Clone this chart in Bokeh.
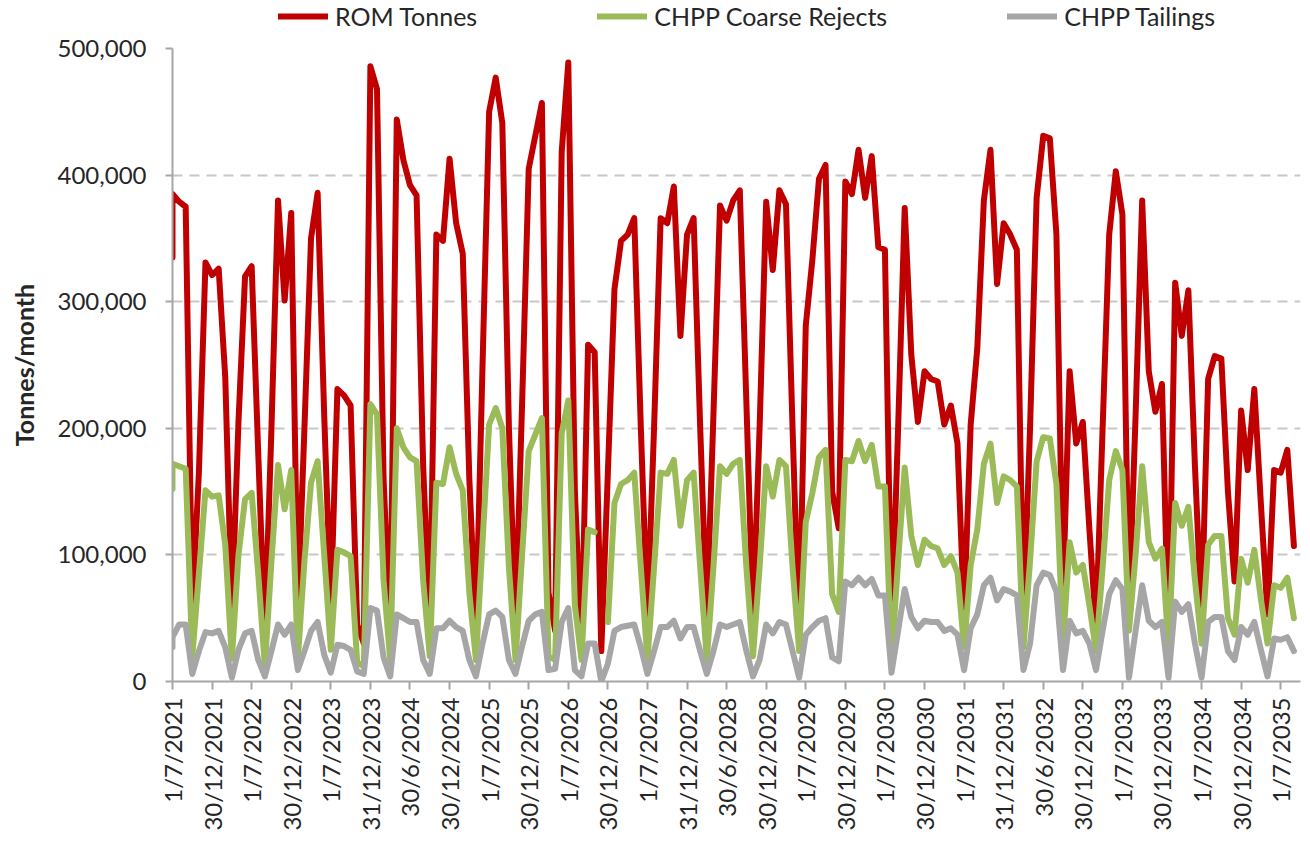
import math
from bokeh.plotting import figure
from bokeh.layouts import column
from bokeh.models import (ColumnDataSource, Legend, LegendItem, FixedTicker,
                          NumeralTickFormatter, Range1d)
from bokeh.embed import file_html
from bokeh.resources import INLINE

NaN = float("nan")

# x-axis tick labels (one every 6 months)
tick_labels = ["1/7/2021", "30/12/2021", "1/7/2022", "30/12/2022", "1/7/2023",
               "31/12/2023", "30/6/2024", "30/12/2024", "1/7/2025", "30/12/2025",
               "1/7/2026", "30/12/2026", "1/7/2027", "31/12/2027", "30/6/2028",
               "30/12/2028", "1/7/2029", "30/12/2029", "1/7/2030", "30/12/2030",
               "1/7/2031", "31/12/2031", "30/6/2032", "30/12/2032", "1/7/2033",
               "30/12/2033", "1/7/2034", "30/12/2034", "1/7/2035"]

# month number of every data row (first row sits on the first month as well)
month_index = [0] + list(range(171))

rom_tonnes = [
    335000,
    385000, 379000, 375000, 58000, 165000, 331000, 321000, 326000, 240000, 55000,
    205000, 320000, 328000, 180000, 37000, 200000, 380000, 301000, 370000, 56000,
    200000, 350000, 386000, 210000, 60000, 231000, 226000, 218000, 45000, 30000,
    486000, 468000, 160000, 35000, 444000, 412000, 392000, 384000, 170000, 43000,
    353000, 348000, 413000, 362000, 338000, 160000, 40000, 250000, 450000, 477000,
    441000, 200000, 45000, 220000, 405000, 431000, 457000, 70000, 40000, 418000,
    489000, 150000, 25000, 266000, 260000, 24000, 165000, 310000, 348000, 353000,
    366000, 200000, 50000, 200000, 366000, 362000, 391000, 273000, 353000, 366000,
    200000, 50000, 210000, 376000, 364000, 380000, 388000, 220000, 50000, 200000,
    379000, 325000, 388000, 377000, 200000, 34000, 281000, 333000, 397000, 408000,
    150000, 121000, 395000, 385000, 420000, 382000, 415000, 343000, 341000, 40000,
    200000, 374000, 258000, 205000, 245000, 239000, 237000, 203000, 218000, 188000,
    53000, 203000, 263000, 380000, 420000, 314000, 362000, 353000, 341000, 50000,
    200000, 382000, 431000, 429000, 353000, 70000, 245000, 188000, 205000, 120000,
    43000, 200000, 353000, 403000, 369000, 56000, 210000, 380000, 245000, 213000,
    235000, 30000, 315000, 273000, 309000, 170000, 50000, 239000, 257000, 255000,
    150000, 79000, 214000, 167000, 231000, 140000, 53000, 167000, 165000, 183000,
    107000,
]

coarse_rejects = [
    152000,
    172000, 170000, 168000, 20000, 85000, 151000, 146000, 147000, 108000, 18000,
    100000, 144000, 149000, 85000, 12000, 95000, 171000, 136000, 167000, 18000,
    95000, 157000, 174000, 100000, 25000, 104000, 102000, 99000, 15000, 12000,
    219000, 211000, 80000, 17000, 200000, 185000, 177000, 174000, 80000, 20000,
    157000, 156000, 185000, 164000, 151000, 70000, 17000, 110000, 203000, 216000,
    200000, 90000, 17000, 100000, 182000, 195000, 208000, 20000, 17000, 196000,
    222000, 60000, 17000, 120000, 118000, NaN, 47000, 141000, 156000, 159000,
    165000, 90000, 17000, 90000, 165000, 164000, 175000, 123000, 159000, 165000,
    90000, 17000, 90000, 170000, 164000, 172000, 175000, 90000, 20000, 90000,
    170000, 146000, 175000, 170000, 90000, 24000, 126000, 149000, 177000, 183000,
    69000, 55000, 175000, 174000, 190000, 174000, 187000, 154000, 154000, 17000,
    95000, 169000, 115000, 92000, 112000, 107000, 105000, 92000, 99000, 86000,
    27000, 92000, 120000, 172000, 188000, 141000, 162000, 159000, 154000, 27000,
    95000, 174000, 193000, 192000, 156000, 30000, 110000, 86000, 92000, 60000,
    24000, 90000, 159000, 182000, 167000, 40000, 100000, 170000, 110000, 97000,
    105000, 27000, 141000, 123000, 138000, 80000, 30000, 108000, 115000, 115000,
    50000, 37000, 97000, 78000, 104000, 65000, 30000, 76000, 74000, 82000,
    50000,
]

tailings = [
    27000,
    35000, 45000, 45000, 6000, 24000, 39000, 38000, 40000, 27000, 3000,
    25000, 38000, 40000, 17000, 4000, 24000, 45000, 37000, 45000, 9000,
    24000, 40000, 47000, 21000, 7000, 29000, 28000, 25000, 8000, 6000,
    58000, 56000, 19000, 4000, 53000, 50000, 47000, 47000, 17000, 6000,
    42000, 42000, 48000, 43000, 40000, 17000, 4000, 30000, 53000, 56000,
    51000, 17000, 6000, 28000, 48000, 53000, 55000, 9000, 10000, 47000,
    58000, 9000, 4000, 30000, 30000, 0, 14000, 40000, 43000, 44000,
    45000, 27000, 6000, 24000, 43000, 43000, 48000, 34000, 43000, 43000,
    24000, 6000, 24000, 45000, 43000, 45000, 47000, 24000, 4000, 17000,
    45000, 38000, 47000, 45000, 24000, 3000, 37000, 43000, 48000, 50000,
    19000, 16000, 79000, 76000, 82000, 76000, 81000, 68000, 68000, 7000,
    40000, 73000, 51000, 42000, 48000, 47000, 47000, 40000, 42000, 37000,
    9000, 42000, 53000, 76000, 82000, 64000, 73000, 71000, 68000, 9000,
    30000, 76000, 86000, 84000, 71000, 9000, 48000, 38000, 40000, 30000,
    9000, 40000, 69000, 80000, 73000, 3000, 40000, 76000, 48000, 43000,
    47000, 3000, 63000, 55000, 61000, 30000, 3000, 47000, 51000, 51000,
    24000, 17000, 43000, 37000, 47000, 25000, 4000, 34000, 33000, 35000,
    24000,
]

series_names = ["ROM Tonnes", "CHPP Coarse Rejects", "CHPP Tailings"]
series_colors = ["#C00000", "#9BBB59", "#A6A6A6"]

FONT = "Lato"
TEXT = "#262626"
AXIS = "#A6A6A6"
LINE_W = 6

source = ColumnDataSource(dict(x=month_index, rom=rom_tonnes,
                               coarse=coarse_rejects, tail=tailings))

# ---------------- legend strip (its own small figure above the chart) -------
leg_fig = figure(width=1302, height=33, output_backend="svg",
                 toolbar_location=None, x_range=Range1d(0, 1),
                 y_range=Range1d(0, 1), x_axis_type=None, y_axis_type=None,
                 min_border_left=0, min_border_right=0, min_border_top=0,
                 min_border_bottom=0)
leg_fig.outline_line_color = None
leg_fig.xgrid.grid_line_color = None
leg_fig.ygrid.grid_line_color = None
# key-only renderers: one undefined point each, so nothing is drawn in the strip
key_source = ColumnDataSource(dict(x=[0], y=[NaN]))
leg_renderers = []
for color in series_colors:
    leg_renderers.append(leg_fig.line("x", "y", source=key_source,
                                      line_color=color, line_width=LINE_W,
                                      line_cap="round"))
legend = Legend(items=[LegendItem(label=n, renderers=[r])
                       for n, r in zip(series_names, leg_renderers)],
                location=(106, 2), orientation="horizontal",
                glyph_width=50, glyph_height=20, label_height=20,
                label_standoff=7, padding=0, margin=0, spacing=120,
                border_line_color=None, background_fill_alpha=0,
                label_text_font=FONT, label_text_font_size="25px",
                label_text_color=TEXT)
leg_fig.add_layout(legend, "center")

# ---------------- main chart -------------------------------------------------
p = figure(width=1302, height=800, output_backend="svg", toolbar_location=None,
           x_range=Range1d(0, 171), y_range=Range1d(0, 500000),
           min_border_left=172, min_border_right=2, min_border_top=15,
           min_border_bottom=149)
p.outline_line_color = None
p.background_fill_color = "white"

for col, color in zip(["rom", "coarse", "tail"], series_colors):
    p.line("x", col, source=source, line_color=color, line_width=LINE_W,
           line_join="round", line_cap="round")

yax = p.yaxis[0]
yax.ticker = FixedTicker(ticks=[0, 100000, 200000, 300000, 400000, 500000])
yax.formatter = NumeralTickFormatter(format="0,0")
yax.major_label_text_font = FONT
yax.major_label_text_font_size = "24px"
yax.major_label_text_color = TEXT
yax.axis_line_color = AXIS
yax.axis_line_width = 2
yax.major_tick_line_color = AXIS
yax.major_tick_line_width = 2
yax.major_tick_out = 7
yax.major_tick_in = 0
yax.minor_tick_line_color = None
yax.major_label_standoff = 19
yax.axis_label = "Tonnes/month"
yax.axis_label_text_font = FONT
yax.axis_label_text_font_style = "bold"
yax.axis_label_text_font_size = "25px"
yax.axis_label_text_color = TEXT
yax.axis_label_standoff = 16

xax = p.xaxis[0]
tick_pos = list(range(0, 6 * len(tick_labels), 6))
xax.ticker = FixedTicker(ticks=tick_pos)
xax.major_label_overrides = {t: lab for t, lab in zip(tick_pos, tick_labels)}
xax.major_label_orientation = math.pi / 2
xax.major_label_text_font = FONT
xax.major_label_text_font_size = "24px"
xax.major_label_text_color = TEXT
xax.axis_line_color = AXIS
xax.axis_line_width = 2
xax.major_tick_line_color = AXIS
xax.major_tick_line_width = 2
xax.major_tick_out = 8
xax.major_tick_in = 0
xax.minor_tick_line_color = None
xax.major_label_standoff = 8

p.xgrid.grid_line_color = None
p.ygrid.grid_line_color = "#C8C8C8"
p.ygrid.grid_line_width = 2
p.ygrid.grid_line_dash = "10 7"

layout = column(leg_fig, p, spacing=0)
open("out.html", "w").write(file_html(layout, INLINE))
